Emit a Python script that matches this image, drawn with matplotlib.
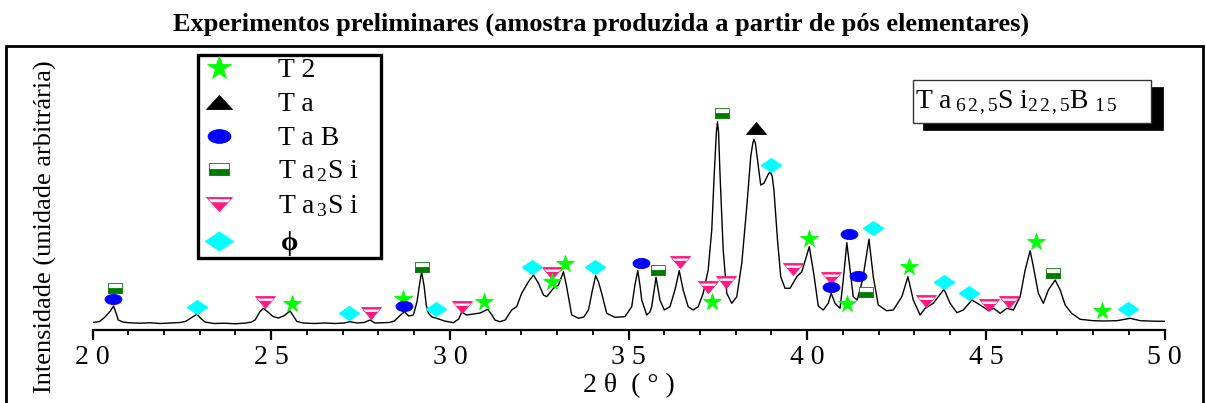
import matplotlib
matplotlib.use('Agg')
import matplotlib.pyplot as plt
from matplotlib.markers import MarkerStyle
from matplotlib.transforms import Affine2D
from matplotlib.patches import Rectangle
from matplotlib.ticker import FixedLocator, FixedFormatter, MultipleLocator

plt.rcParams['font.family'] = ['Liberation Serif', 'DejaVu Serif']
plt.rcParams['mathtext.fontset'] = 'custom'
plt.rcParams['mathtext.rm'] = 'Liberation Serif'
plt.rcParams['mathtext.it'] = 'Liberation Serif:italic'
plt.rcParams['mathtext.bf'] = 'Liberation Serif:bold'

# --- data ---
two_theta = [20.00, 20.20, 20.35, 20.50, 20.59, 20.66, 20.72, 20.85, 21.00, 21.30,
             21.60, 21.90, 22.20, 22.45, 22.60, 22.80, 22.92, 23.05, 23.15, 23.40,
             23.70, 24.00, 24.30, 24.45, 24.55, 24.68, 24.78, 24.90, 25.05, 25.20,
             25.35, 25.53, 25.62, 25.72, 25.90, 26.20, 26.50, 26.80, 27.05, 27.20,
             27.40, 27.60, 27.77, 27.90, 28.10, 28.30, 28.45, 28.62, 28.73, 28.85,
             28.98, 29.08, 29.15, 29.21, 29.28, 29.34, 29.40, 29.50, 29.63, 29.85,
             30.10, 30.25, 30.33, 30.47, 30.65, 30.85, 31.06, 31.18, 31.26, 31.40,
             31.55, 31.73, 31.87, 32.01, 32.20, 32.34, 32.48, 32.62, 32.71, 32.90,
             33.04, 33.18, 33.26, 33.32, 33.41, 33.60, 33.75, 33.88, 33.98, 34.08,
             34.16, 34.25, 34.39, 34.62, 34.90, 35.09, 35.18, 35.26, 35.32, 35.37,
             35.51, 35.60, 35.65, 35.77, 35.88, 36.00, 36.16, 36.30, 36.42, 36.53,
             36.67, 36.81, 36.95, 37.09, 37.23, 37.33, 37.40, 37.46, 37.49, 37.52,
             37.56, 37.65, 37.75, 37.89, 38.03, 38.17, 38.31, 38.42, 38.48, 38.51,
             38.55, 38.61, 38.70, 38.79, 38.90, 38.96, 39.02, 39.07, 39.17, 39.26,
             39.38, 39.52, 39.71, 39.85, 40.06, 40.19,
             40.31, 40.45, 40.59, 40.67, 40.78, 40.92, 41.01, 41.11, 41.20, 41.29,
             41.40, 41.55, 41.73, 41.85, 41.99, 42.22, 42.41, 42.65, 42.82, 42.97,
             43.16, 43.30, 43.53, 43.83, 44.00, 44.19, 44.37, 44.61, 44.84, 45.08,
             45.22, 45.40, 45.59, 45.77, 45.96, 46.10, 46.24, 46.33, 46.47, 46.61,
             46.75, 46.94, 47.08, 47.22, 47.40, 47.64, 48.01, 48.30, 48.67, 49.04,
             49.32, 49.70, 50.00]
intensity = [7.5, 8.5, 13.0, 19.0, 24.0, 17.0, 10.0, 8.0, 7.3, 6.8,
             7.2, 6.5, 7.0, 7.5, 8.5, 13.0, 15.7, 11.0, 8.0, 6.5,
             6.8, 6.2, 7.0, 8.0, 10.0, 18.0, 21.7, 18.3, 13.5, 12.0,
             14.0, 19.0, 14.0, 8.5, 7.0, 6.5, 7.0, 6.5, 7.0, 8.3,
             7.0, 7.5, 10.0, 7.0, 7.2, 7.5, 9.0, 15.0, 18.3, 14.0,
             15.0, 28.0, 45.0, 58.3, 44.0, 25.0, 16.7, 13.0, 11.7, 9.0,
             7.3, 11.0, 18.0, 15.0, 16.0, 17.0, 20.7, 15.0, 10.0, 8.3,
             10.0, 20.0, 23.3, 36.7, 48.3, 55.0, 46.7, 35.0, 33.3, 41.7,
             45.0, 58.3, 45.0, 33.0, 15.0, 11.7, 13.0, 20.0, 38.0, 54.3,
             48.0, 36.7, 16.7, 12.7, 13.3, 23.3, 45.0, 59.3, 45.0, 30.0,
             15.0, 18.0, 23.3, 52.7, 30.0, 20.0, 23.3, 40.0, 59.3, 40.0,
             23.3, 20.0, 23.3, 36.7, 60.0, 100.0, 156.7, 198.0, 208.3, 198.0,
             156.7, 80.0, 36.7, 26.7, 33.3, 66.7, 123.3, 173.3, 187.0, 190.7,
             187.0, 170.0, 145.0, 146.7, 155.0, 158.3, 154.0, 140.0, 90.0, 53.3,
             41.7, 41.7, 53.3, 58.3, 83.3, 55.0,
             24.0, 20.0, 26.7, 36.7, 26.7, 21.7, 50.0, 87.3, 60.0, 33.3,
             30.0, 50.0, 90.7, 53.3, 25.0, 19.3, 20.0, 33.3, 53.3, 30.0,
             15.0, 21.7, 26.7, 40.7, 26.7, 17.3, 20.0, 30.0, 25.0, 19.3,
             21.7, 16.7, 21.7, 20.0, 33.3, 60.0, 79.3, 63.3, 36.7, 26.7,
             40.0, 50.0, 40.0, 25.0, 16.7, 10.7, 9.3, 9.0, 9.3, 11.7,
             9.3, 8.8, 8.7]

# phase identification marks (2theta, height)
t2_x = [25.57, 28.68, 30.97, 32.85, 33.22, 37.33, 40.06, 41.12, 42.86, 46.40, 48.24]
t2_y = [26.0, 31.0, 27.7, 48.3, 66.0, 27.7, 91.0, 26.0, 63.3, 88.3, 19.3]
ta_x = [38.57]
ta_y = [201.7]
tab_x = [20.58, 28.72, 35.34, 40.67, 41.17, 41.43]
tab_y = [31.3, 24.0, 66.7, 43.3, 95.7, 54.3]
ta2si_x = [20.63, 29.23, 35.82, 37.61, 41.64, 46.89]
ta2si_y = [41.7, 63.3, 60.0, 217.3, 38.3, 57.3]
ta3si_x = [24.83, 27.78, 30.34, 32.85, 36.44, 37.22, 37.73, 39.61, 40.67, 43.33, 45.10, 45.66]
ta3si_y = [28.3, 17.3, 22.7, 57.3, 68.3, 43.3, 48.3, 60.7, 51.7, 29.3, 25.0, 28.3]
phi_x = [22.92, 27.18, 29.61, 32.29, 34.06, 38.99, 41.84, 43.83, 44.54, 48.99]
phi_y = [22.7, 16.7, 21.0, 62.7, 62.7, 165.0, 101.7, 48.3, 36.7, 20.7]

tick_values = [20, 25, 30, 35, 40, 45, 50]
tick_labels = ['2 0', '2 5', '3 0', '3 5', '4 0', '4 5', '5 0']

legend_labels = ['T 2', 'T a', 'T a B', 'T a$_{\\,2}$S i', 'T a$_{\\,3}$S i', '\u03d5']

W, H = 1206, 403


def fx(px):
    return px / W


def fy(py):
    return 1 - py / H


# marker styles
band_verts = [(-0.65, 0.3), (0.65, 0.3), (0.86, 0.72), (-0.86, 0.72), (-0.65, 0.3)]
STYLES = {
    'T2': dict(marker=MarkerStyle('*'), ms=13.0, mfc='#00FF00', mec='#00FF00'),
    'Ta': dict(marker=MarkerStyle('^', transform=Affine2D().scale(1, 0.58)), ms=13.7,
               mfc='black', mec='black'),
    'TaB': dict(marker=MarkerStyle('o', transform=Affine2D().scale(1, 0.6)), ms=12.2,
                mfc='#0000FF', mec='#0000FF'),
    'Ta2Si': dict(marker=MarkerStyle('s', fillstyle='bottom', transform=Affine2D().scale(1, 0.62)),
                  ms=10.5, mfc='#007A00', mec='#007A00', mfcalt='white'),
    'Ta3Si': dict(marker=MarkerStyle('v', transform=Affine2D().scale(1, 0.58)), ms=13.7,
                  mfc='#FF1A80', mec='#FF1A80'),
    'phi': dict(marker=MarkerStyle([(-1, 0), (0, 0.68), (1, 0), (0, -0.68), (-1, 0)]), ms=15.1,
                mfc='#00FFFF', mec='#00FFFF'),
}
BAND = MarkerStyle(band_verts, transform=Affine2D().scale(0.86, 0.86 * 0.58))


def draw_phase(target, xs, ys, key, scale=1.0, **kw):
    st = dict(STYLES[key])
    ms = st.pop('ms') * scale
    target.plot(xs, ys, ls='none', ms=ms, mew=0.6, clip_on=False, **st, **kw)
    if key == 'Ta3Si':
        target.plot(xs, ys, ls='none', marker=BAND, ms=ms, mfc='white', mec='none',
                    clip_on=False, **kw)


fig = plt.figure(figsize=(W / 100, H / 100), dpi=100)
ax = fig.add_axes([fx(92.5), 1 - 330 / H, fx(1164.5) - fx(92.5), (330 - 46) / H])
ax.set_xlim(20, 50)
ax.set_ylim(0, 284)
ax.patch.set_alpha(0)

ax.plot(two_theta, intensity, color='black', lw=1.0)

draw_phase(ax, ta3si_x, ta3si_y, 'Ta3Si')
draw_phase(ax, t2_x, t2_y, 'T2')
draw_phase(ax, tab_x, tab_y, 'TaB')
draw_phase(ax, ta2si_x, ta2si_y, 'Ta2Si')
draw_phase(ax, ta_x, ta_y, 'Ta')
draw_phase(ax, phi_x, phi_y, 'phi')

for s in ['left', 'right', 'top']:
    ax.spines[s].set_visible(False)
ax.spines['bottom'].set_linewidth(1.6)
ax.set_yticks([])
ax.xaxis.set_major_locator(FixedLocator(tick_values))
ax.xaxis.set_major_formatter(FixedFormatter(tick_labels))
ax.xaxis.set_minor_locator(MultipleLocator(1))
ax.tick_params(axis='x', which='major', direction='out', length=7, width=1.6,
               labelsize=20, pad=4)
ax.tick_params(axis='x', which='minor', direction='out', length=3.5, width=1.3)

# outer frame
fig.add_artist(Rectangle((fx(6), -0.1), fx(1203) - fx(6), fy(46) + 0.1, fill=False,
                         lw=2.0, ec='black', transform=fig.transFigure))

# texts
fig.text(fx(601), fy(31), 'Experimentos preliminares (amostra produzida a partir de pós elementares)',
         ha='center', va='baseline', fontsize=19, fontweight='bold')
fig.text(fx(45), fy(227), 'Intensidade (unidade arbitrária)', rotation=90,
         ha='center', va='center', fontsize=19)
fig.text(fx(629), fy(392), '2 \u03b8  ( \u00b0 )', ha='center', va='baseline', fontsize=20)

# legend box (drawn beneath the axes so the markers stay visible)
fig.add_artist(Rectangle((fx(198), fy(258)), fx(381) - fx(198), fy(55) - fy(258), fill=True,
                         fc='white', lw=2.4, ec='black', transform=fig.transFigure, zorder=-1))
legend_keys = ['T2', 'Ta', 'TaB', 'Ta2Si', 'Ta3Si', 'phi']
row_y = [68, 102, 136, 169, 204, 241]
for key, lab, ry in zip(legend_keys, legend_labels, row_y):
    draw_phase(ax, [fx(219)], [fy(ry)], key, scale=1.35, transform=fig.transFigure)
    fig.text(fx(278 if key != 'phi' else 281), fy(ry + 9), lab, ha='left', va='baseline',
             fontsize=20, fontweight='bold' if key == 'phi' else 'normal')

# composition label with shadow
fig.add_artist(Rectangle((fx(923), fy(130)), fx(1163) - fx(923), fy(87) - fy(130),
                         fc='black', ec='black', lw=0.5, transform=fig.transFigure))
fig.add_artist(Rectangle((fx(913), fy(123)), fx(1151) - fx(913), fy(80) - fy(123),
                         fc='white', ec='#333333', lw=1.0, transform=fig.transFigure))
fig.text(fx(915), fy(108),
         r'T a$_{\;6\,2\,,5}$S i$_{2\,2\,,5}$B$_{\;\,1\,5}$',
         ha='left', va='baseline', fontsize=20)

fig.savefig('out.png', dpi=100)
